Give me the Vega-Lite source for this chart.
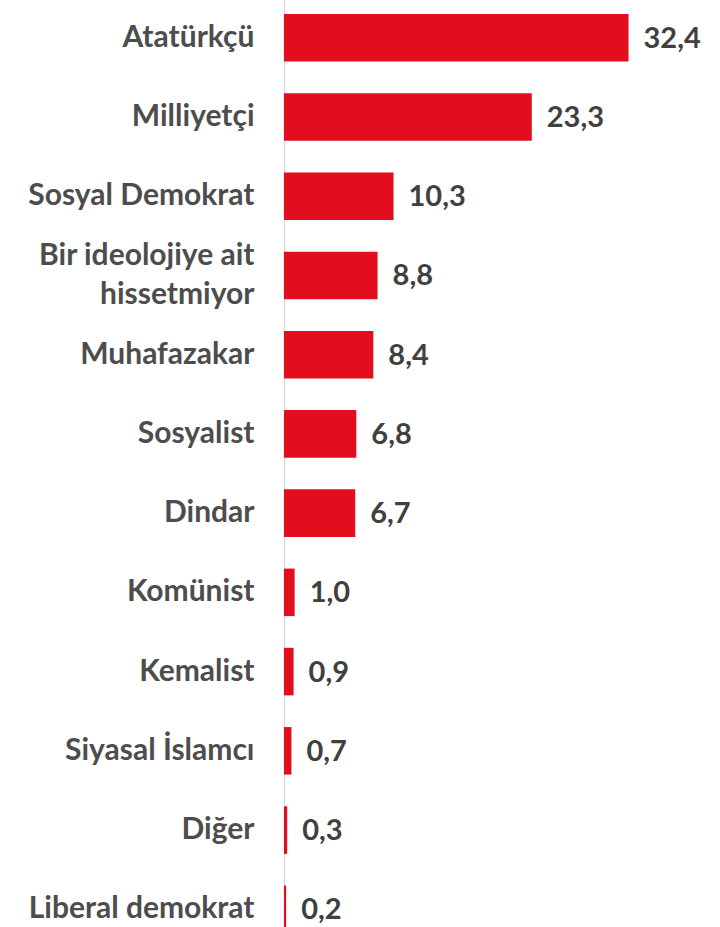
{
  "$schema": "https://vega.github.io/schema/vega-lite/v6.json",
  "autosize": "none",
  "padding": {"left": 284, "top": 0, "right": 0, "bottom": 0},
  "width": 436,
  "height": 947,
  "background": "white",
  "config": {
    "view": {"stroke": null},
    "locale": {"number": {"decimal": ",", "thousands": ".", "grouping": [3], "currency": ["", ""]}},
    "font": "Lato"
  },
  "data": {
    "values": [
      {"kategori": "Atatürkçü", "deger": 32.4},
      {"kategori": "Milliyetçi", "deger": 23.3},
      {"kategori": "Sosyal Demokrat", "deger": 10.3},
      {"kategori": "Bir ideolojiye ait hissetmiyor", "deger": 8.8},
      {"kategori": "Muhafazakar", "deger": 8.4},
      {"kategori": "Sosyalist", "deger": 6.8},
      {"kategori": "Dindar", "deger": 6.7},
      {"kategori": "Komünist", "deger": 1.0},
      {"kategori": "Kemalist", "deger": 0.9},
      {"kategori": "Siyasal İslamcı", "deger": 0.7},
      {"kategori": "Diğer", "deger": 0.3},
      {"kategori": "Liberal demokrat", "deger": 0.2}
    ]
  },
  "encoding": {
    "y": {
      "field": "kategori",
      "type": "nominal",
      "sort": null,
      "scale": {"paddingInner": 0.4, "paddingOuter": 0.176},
      "axis": {
        "title": null,
        "ticks": false,
        "domain": true,
        "domainColor": "#d9d9d9",
        "domainWidth": 1.5,
        "labelFont": "Lato",
        "labelFontWeight": "bold",
        "labelFontSize": 30,
        "labelColor": "#4d4d4d",
        "labelPadding": 30,
        "labelLimit": 300,
        "labelLineHeight": 39,
        "labelOffset": {"expr": "datum.value == 'Bir ideolojiye ait hissetmiyor' ? -19.5 : 0"},
        "labelExpr": "datum.label == 'Bir ideolojiye ait hissetmiyor' ? ['Bir ideolojiye ait', 'hissetmiyor'] : datum.label"
      }
    },
    "x": {
      "field": "deger",
      "type": "quantitative",
      "scale": {"domain": [0, 41], "nice": false},
      "axis": null
    }
  },
  "layer": [
    {"mark": {"type": "bar", "color": "#e20e1e"}},
    {
      "mark": {"type": "text", "align": "left", "baseline": "middle", "dx": 15, "dy": 1, "font": "Lato", "fontWeight": "bold", "fontSize": 29, "color": "#404040"},
      "encoding": {"text": {"field": "deger", "type": "quantitative", "format": ".1f"}}
    }
  ]
}
